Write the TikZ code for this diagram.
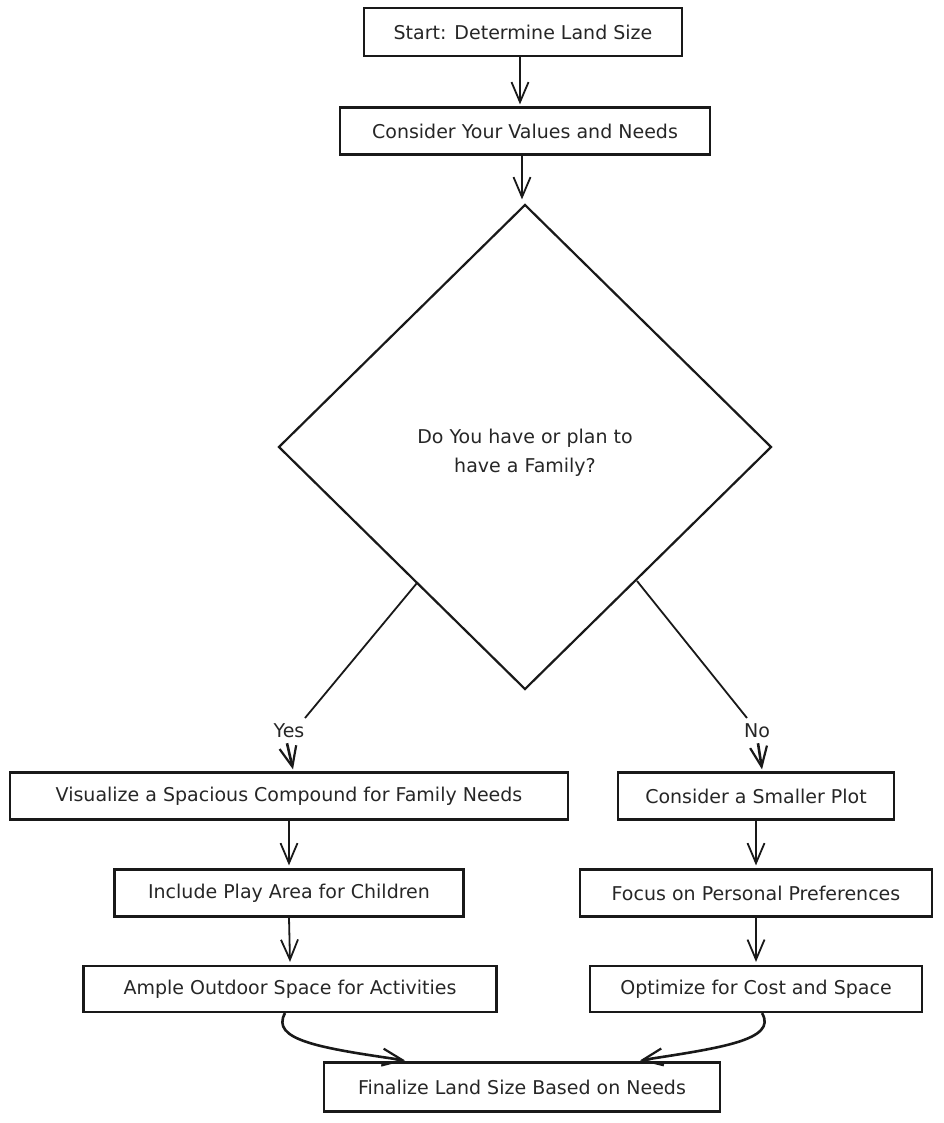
\documentclass[tikz,border=0pt]{standalone}
\usepackage{fontspec}
\setmainfont{DejaVu Sans}
\usetikzlibrary{arrows.meta,shapes.geometric,calc}
\begin{document}
\begin{tikzpicture}[x=1pt,y=-1pt,
  every node/.style={font=\fontsize{19}{29}\selectfont, text=black!85},
  box/.style={draw=black!90, line width=2.2pt, rectangle, inner sep=0pt},
  decision/.style={draw=black!90, line width=2.2pt, diamond, inner sep=0pt,
    minimum width=493pt, minimum height=485pt, align=center},
  flow/.style={draw=black!90, line width=1.8pt,
    -{Straight Barb[length=20pt,width=17pt,line width=1.8pt]}},
  bold flow/.style={flow, line width=2.6pt,
    -{Straight Barb[length=20pt,width=17pt,line width=2.2pt]}},
  branch/.style={draw=black!90, line width=1.8pt},
  tag/.style={inner sep=1pt}]
\useasboundingbox (0,0) rectangle (943,1123);

% boxes of the main column
\node[box, minimum width=318pt, minimum height=48pt] (start) at (523,32) {Start: Determine Land Size};
\node[box, minimum width=370pt, minimum height=47pt] (values) at (525,131) {Consider Your Values and Needs};
\node[decision] (family) at (525,447) {\raisebox{-6pt}[\height][\depth]{\parbox{8cm}{\centering Do You have or plan to\\have a Family?}}};

% left branch
\node[box, minimum width=558pt, minimum height=47pt] (spacious) at (289,796) {Visualize a Spacious Compound for Family Needs};
\node[box, minimum width=349pt, minimum height=47pt] (play) at (289,893) {Include Play Area for Children};
\node[box, minimum width=413pt, minimum height=46pt] (outdoor) at (290,989) {Ample Outdoor Space for Activities};

% right branch
\node[box, minimum width=276pt, minimum height=47pt] (smaller) at (756,796) {Consider a Smaller Plot};
\node[box, minimum width=352pt, minimum height=47pt] (personal) at (756,893) {Focus on Personal Preferences};
\node[box, minimum width=332pt, minimum height=46pt] (optimize) at (756,989) {Optimize for Cost and Space};

% final step
\node[box, minimum width=396pt, minimum height=49pt] (final) at (522,1087) {Finalize Land Size Based on Needs};

% branch labels
\node[tag] (yes) at (289,731) {Yes};
\node[tag] (no) at (757,731) {No};

% main column connectors
\draw[flow] ($(start.south)+(-3,0)$) -- ($(values.north)+(-5,-2)$);
\draw[flow] ($(values.south)+(-3,0)$) -- ($(family.north)+(-3,-4)$);

% decision branches
\coordinate (yesfrom) at (417,583);
\coordinate (yesto) at (305,718);
\coordinate (nofrom) at (637,581);
\coordinate (noto) at (747,718);
\draw[branch] (yesfrom) -- (yesto);
\draw[bold flow] ($(yes.south)+(-2,4)$) -- ($(spacious.north)+(4,-2)$);
\draw[branch] (nofrom) -- (noto);
\draw[bold flow] ($(no.south)+(1,4)$) -- ($(smaller.north)+(6,-2)$);

% straight steps
\draw[flow] (spacious.south) -- ($(play.north)+(0,-3)$);
\draw[flow] (play.south) -- ($(outdoor.north)+(0,-3)$);
\draw[flow] (smaller.south) -- ($(personal.north)+(0,-3)$);
\draw[flow] (personal.south) -- ($(optimize.north)+(0,-3)$);

% merging curves into the final box
\coordinate (finL) at ($(final.north)+(-117,-1)$);
\coordinate (finR) at ($(final.north)+(118,-1)$);
\draw[bold flow] ($(outdoor.south)+(-5,0)$) .. controls (270,1040) and (320,1048) .. (finL);
\draw[bold flow] ($(optimize.south)+(6,0)$) .. controls (778,1040) and (720,1048) .. (finR);
\end{tikzpicture}
\end{document}
